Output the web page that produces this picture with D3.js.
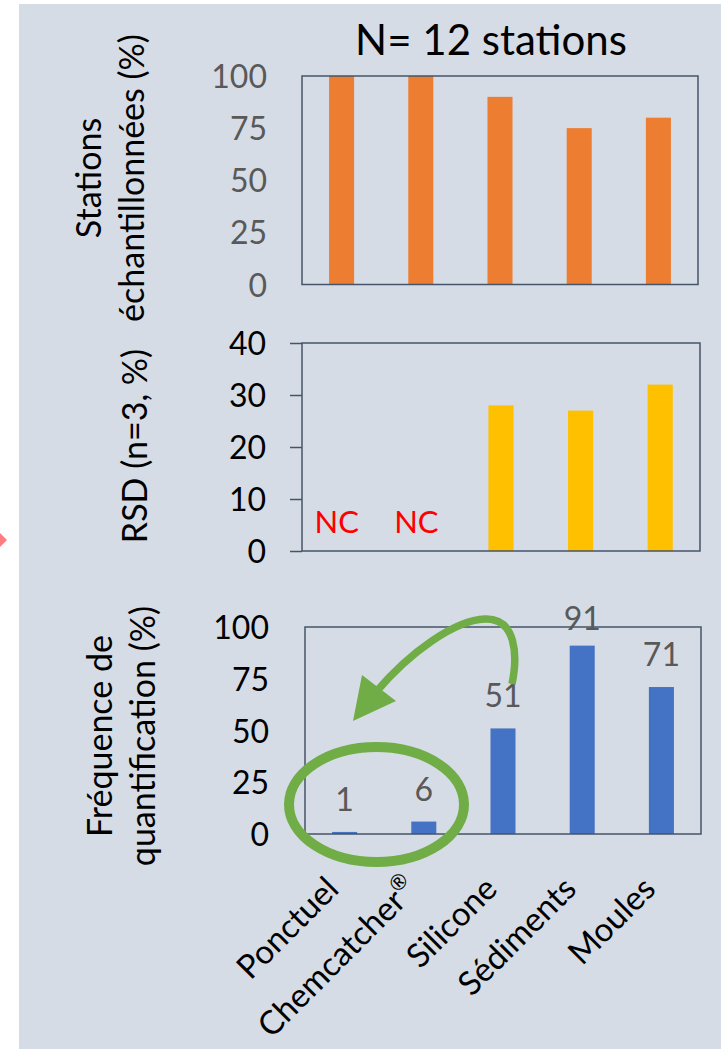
<!DOCTYPE html>
<html>
<head>
<meta charset="utf-8">
<script src="https://cdn.jsdelivr.net/npm/d3@7"></script>
<style>
  html, body { margin: 0; padding: 0; background: #ffffff; }
  svg { display: block; }
  text { font-family: Lato, "Open Sans", sans-serif; }
</style>
</head>
<body>
<svg id="chart" width="721" height="1049"></svg>
<script>
// ---------- data ----------
const categories = ["Ponctuel", "Chemcatcher", "Silicone", "Sédiments", "Moules"];
const categorySup = ["", "®", "", "", ""];
const sampledPct = [100, 100, 90, 75, 80];          // Stations échantillonnées (%)
const rsdPct = [null, null, 28, 27, 32];            // RSD (n=3, %), null = NC
const quantFreq = [1, 6, 51, 91, 71];               // Fréquence de quantification (%)
const ticksTop = [0, 25, 50, 75, 100];
const ticksMid = [0, 10, 20, 30, 40];
const ticksBot = [0, 25, 50, 75, 100];
const titleText = "N= 12 stations";
const ncText = "NC";

// ---------- layout ----------
const svg = d3.select("#chart");
const bg = "#D6DCE5";
const frame = "#44546A";

svg.append("rect").attr("x", 19).attr("y", 4).attr("width", 702).attr("height", 1045).attr("fill", bg);
svg.append("path").attr("d", "M0,533 L7,540 L0,547 Z").attr("fill", "#FF7C80");

const panels = [
  { values: sampledPct, ticks: ticksTop, max: 100, x0: 302, x1: 698, y0: 76, y1: 284.5, color: "#ED7D31", tickColor: "#595959", tickX: 267, outerTicks: false },
  { values: rsdPct, ticks: ticksMid, max: 40, x0: 302, x1: 700, y0: 343, y1: 551, color: "#FFC000", tickColor: "#000000", tickX: 266, outerTicks: true },
  { values: quantFreq, ticks: ticksBot, max: 100, x0: 305, x1: 701, y0: 627, y1: 834, color: "#4472C4", tickColor: "#000000", tickX: 269, outerTicks: false }
];

panels.forEach((p, pi) => {
  p.x = d3.scaleBand().domain(categories).range([p.x0, p.x1]).paddingInner(0.684).paddingOuter(0.342);
  p.y = d3.scaleLinear().domain([0, p.max]).range([p.y1, p.y0]);
  const g = svg.append("g");

  // bars
  g.selectAll("rect.bar")
    .data(categories.map((c, i) => ({ c, v: p.values[i] })).filter(d => d.v != null))
    .enter().append("rect")
    .attr("class", "bar")
    .attr("x", d => p.x(d.c))
    .attr("width", p.x.bandwidth())
    .attr("y", d => p.y(d.v))
    .attr("height", d => p.y(0) - p.y(d.v))
    .attr("fill", p.color);

  // frame
  g.append("rect")
    .attr("x", p.x0).attr("y", p.y0)
    .attr("width", p.x1 - p.x0).attr("height", p.y1 - p.y0)
    .attr("fill", "none").attr("stroke", frame).attr("stroke-width", 1.5);

  // y axis
  const axis = d3.axisLeft(p.y).tickValues(p.ticks)
    .tickSize(p.outerTicks ? 12 : 0).tickPadding(0).tickFormat(d3.format("d"));
  const ag = g.append("g").attr("transform", `translate(${p.x0},0)`).call(axis);
  ag.select(".domain").remove();
  ag.selectAll(".tick line").attr("stroke", frame).attr("stroke-width", 1.5);
  ag.selectAll(".tick text")
    .attr("x", p.tickX - p.x0)
    .attr("dy", "0.36em")
    .attr("text-anchor", "end")
    .attr("fill", p.tickColor)
    .style("font-family", "Lato, sans-serif")
    .style("font-size", "32px");
});

// NC labels in RSD panel
const pm = panels[1];
svg.append("g").selectAll("text.nc")
  .data(categories.map((c, i) => ({ c, v: rsdPct[i] })).filter(d => d.v == null))
  .enter().append("text")
  .attr("x", d => pm.x(d.c) + pm.x.bandwidth() / 2 - 5)
  .attr("y", 533)
  .attr("text-anchor", "middle")
  .attr("fill", "#FF0000")
  .style("font-size", "31px")
  .text(ncText);

// data labels in bottom panel
const pb = panels[2];
svg.append("g").selectAll("text.dl")
  .data(categories.map((c, i) => ({ c, v: quantFreq[i] })))
  .enter().append("text")
  .attr("x", d => pb.x(d.c) + pb.x.bandwidth() / 2)
  .attr("y", d => Math.max(pb.y(d.v) - 21, 630))
  .attr("text-anchor", "middle")
  .attr("fill", "#595959")
  .style("font-size", "32px")
  .text(d => d.v);

// category labels (rotated)
const cl = svg.append("g").selectAll("text.cat")
  .data(categories.map((c, i) => ({ c, sup: categorySup[i] })))
  .enter().append("text")
  .attr("transform", d => `translate(${pb.x(d.c) + pb.x.bandwidth() / 2 - 4},891) rotate(-45)`)
  .attr("text-anchor", "end")
  .attr("fill", "#000000")
  .style("font-size", "33px");
cl.append("tspan").text(d => d.c);
cl.filter(d => d.sup).append("tspan")
  .attr("dy", -14).style("font-size", "21px").text(d => d.sup);

// axis titles (rotated)
function vTitle(lines, xs, cy, size) {
  lines.forEach((t, i) => {
    svg.append("text")
      .attr("transform", `translate(${xs[i]},${cy}) rotate(-90)`)
      .attr("text-anchor", "middle")
      .attr("fill", "#000000")
      .style("font-size", size + "px")
      .text(t);
  });
}
vTitle(["Stations", "échantillonnées (%)"], [101, 144], 178, 34);
vTitle(["RSD (n=3, %)"], [147], 446, 34);
vTitle(["Fréquence de", "quantification (%)"], [112, 155], 736, 34);

// title
const title = svg.append("text")
  .attr("x", 491).attr("y", 55)
  .attr("text-anchor", "middle")
  .attr("fill", "#000000")
  .style("font-size", "40px")
  .text(titleText);
const tw = title.node().getComputedTextLength();
if (tw > 0) title.style("font-size", (40 * 272 / tw).toFixed(1) + "px");

// green annotations
const green = "#70AD47";
svg.append("ellipse")
  .attr("cx", 376.5).attr("cy", 804.5).attr("rx", 87.5).attr("ry", 57.5)
  .attr("fill", "none").attr("stroke", green).attr("stroke-width", 10);
svg.append("path")
  .attr("d", "M512,684 C518,655 516,618 485,619 C455,620 410,652 376,692")
  .attr("fill", "none").attr("stroke", green).attr("stroke-width", 7.5);
svg.append("path")
  .attr("d", "M353,721 L362,675 L396,701 Z")
  .attr("fill", green);
</script>
</body>
</html>
